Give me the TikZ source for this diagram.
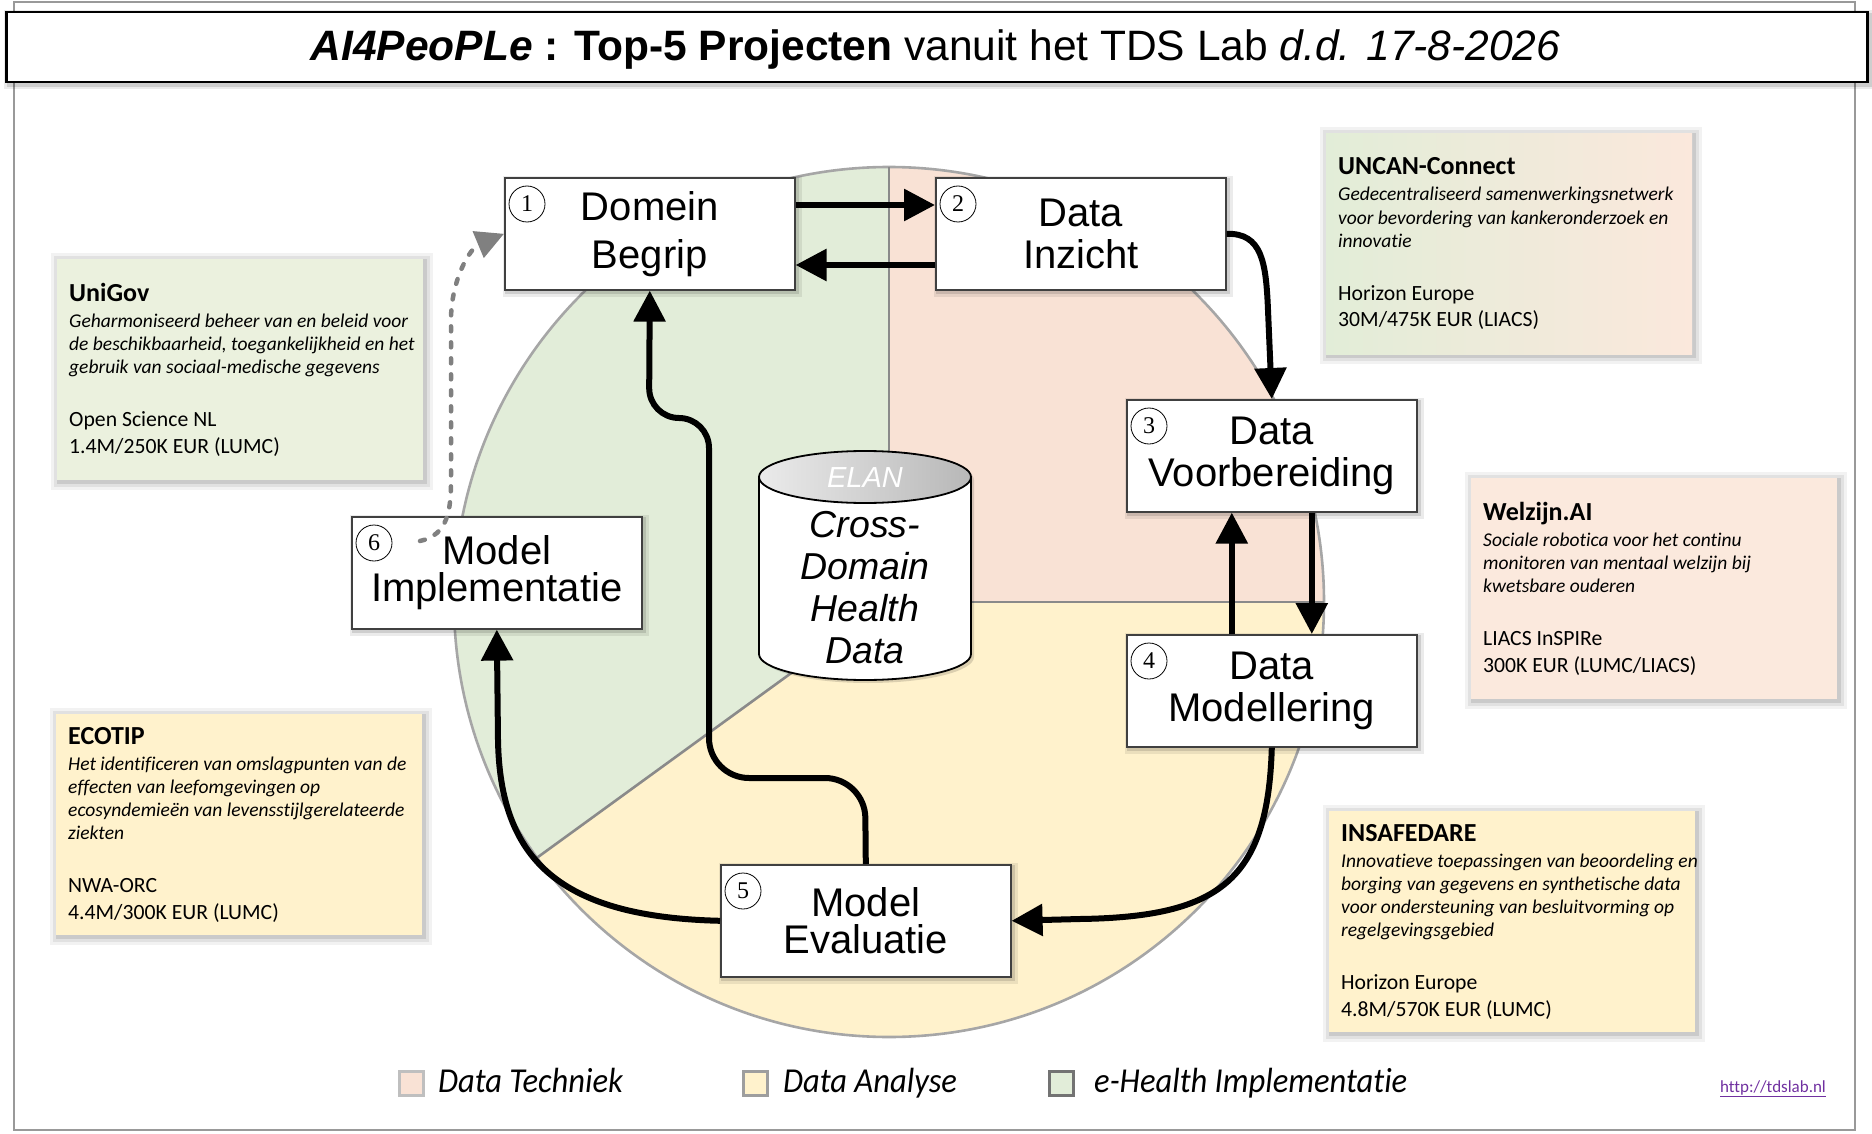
\documentclass[tikz,border=0pt]{standalone}
\usepackage{fontspec}
\setmainfont{Liberation Sans}
\newfontfamily\calfont[Ligatures={NoCommon}]{Carlito}
\newfontfamily\legfont[FakeStretch=0.93,Ligatures={NoCommon}]{Carlito}
\newfontfamily\numfont{Liberation Serif}
\usetikzlibrary{arrows.meta,calc}
\definecolor{peach}{HTML}{F9E2D5}
\definecolor{yel}{HTML}{FFF2CC}
\definecolor{grn}{HTML}{E2EDD9}
\definecolor{boxgrn}{HTML}{EBF1DE}
\definecolor{boxpeach}{HTML}{FBE9DD}
\definecolor{boxyel}{HTML}{FFF2CC}
\definecolor{uncL}{HTML}{E2EDD8}
\definecolor{uncR}{HTML}{FBE8DC}
\definecolor{linkpurple}{HTML}{7030A0}
\definecolor{pieline}{HTML}{A6A6A6}
\definecolor{divline}{HTML}{8A8A8A}
\newcommand\projtext[3]{\hspace*{12pt}\begin{minipage}{354pt}\raggedright\calfont
{\fontsize{26}{30}\selectfont\bfseries #1\par}\vspace{3pt}%
{\fontsize{19.5}{23.2}\selectfont\itshape #2\par}\vspace{26.4pt}%
{\fontsize{21.7}{26.6}\selectfont #3\par}\end{minipage}}
\begin{document}
\begin{tikzpicture}[x=1pt,y=-1pt,
  boxshadow/.style={
    preaction={draw=black,draw opacity=0.08,line width=9pt,transform canvas={xshift=2.5pt,yshift=-2.5pt}},
    preaction={draw=black,draw opacity=0.12,line width=4pt,transform canvas={xshift=2.5pt,yshift=-2.5pt}}},
  softshadow/.style={
    preaction={draw=black,draw opacity=0.05,line width=16pt,transform canvas={xshift=2pt,yshift=-2pt}},
    preaction={draw=black,draw opacity=0.07,line width=10pt,transform canvas={xshift=2pt,yshift=-2pt}},
    preaction={draw=black,draw opacity=0.10,line width=4pt,transform canvas={xshift=2pt,yshift=-2pt}}},
  procbox/.style={draw=black!75, line width=1.6pt, fill=white, minimum width=290pt,
    minimum height=112pt, inner sep=0pt, anchor=north west, align=center, boxshadow},
  callout/.style={minimum width=366pt, minimum height=221pt, inner sep=0pt,
    anchor=north west, softshadow},
  numc/.style={circle, draw=black, line width=0.8pt, minimum size=36pt, inner sep=0pt,
    font=\numfont\fontsize{24}{24}\selectfont},
  arr/.style={line width=6pt, -{Triangle[length=31pt,width=31pt]}},
  dasharr/.style={draw=black!50, line width=4.5pt, dash pattern=on 5pt off 11pt,
    line cap=round, -{Triangle[length=28pt,width=28pt,sharp]}, black!50},
  legsq/.style={minimum size=24pt, inner sep=0pt, line width=3pt},
  legtxt/.style={anchor=base west, inner sep=0pt, font=\legfont\itshape\fontsize{35}{40}\selectfont}
]
\useasboundingbox (0,0) rectangle (1872,1134);
% outer frame
\draw[black!40, line width=2pt] (14,2) rectangle (1855,1130);

% pie
\coordinate (pc) at (889,602);
\fill[peach] (pc) -- ($(pc)+(0:435)$) arc[start angle=0,end angle=-90,radius=435] -- cycle;
\fill[grn] (pc) -- ($(pc)+(-90:435)$) arc[start angle=-90,end angle=-216,radius=435] -- cycle;
\fill[yel] (pc) -- ($(pc)+(-216:435)$) arc[start angle=-216,end angle=-360,radius=435] -- cycle;
\draw[pieline, line width=2.6pt] (pc) circle[radius=435];
\draw[divline, line width=2.6pt] (pc) -- ($(pc)+(-90:435)$);
\draw[divline, line width=2.6pt] (pc) -- ($(pc)+(0:435)$);
\draw[divline, line width=2.6pt] (pc) -- ($(pc)+(-216:435)$);

% title
\node[draw=black, line width=2.5pt, fill=white, minimum width=1861pt, minimum height=70pt,
  anchor=north west, inner sep=0pt, boxshadow] (tbox) at (5,11) {};
\node[anchor=base, inner sep=0pt] (title) at (935.5,61)
  {\fontsize{42.5}{46}\selectfont{\bfseries\itshape AI4PeoPLe}{\bfseries{} : Top-5 Projecten} vanuit het TDS Lab {\itshape d.d. 17-8-2026}};

% cylinder
\fill[black, opacity=0.14, transform canvas={xshift=3pt,yshift=-3pt}]
  (759,477) -- (759,654) arc[start angle=180,end angle=0,x radius=106,y radius=26]
  -- (971,477) arc[start angle=0,end angle=-180,x radius=106,y radius=26] -- cycle;
\draw[line width=1.8pt, fill=white] (759,477) -- (759,654)
  arc[start angle=180,end angle=0,x radius=106,y radius=26] -- (971,477);
\draw[line width=1.8pt, left color=black!8, right color=black!28] (865,477) ellipse[x radius=106,y radius=26];
\node[text=white, font=\itshape\fontsize{29}{30}\selectfont, inner sep=0pt] (elan) at (865,478) {ELAN};
\node[align=center, font=\itshape\fontsize{37.5}{42}\selectfont, inner sep=0pt] (chd) at (865,588)
  {Cross-\\Domain\\Health\\Data};

% callouts
\node[callout, left color=uncL, right color=uncR] (uncan) at (1326,133)
  {\projtext{UNCAN-Connect}{Gedecentraliseerd samenwerkingsnetwerk\\voor bevordering van kankeronderzoek en\\innovatie}{Horizon Europe\\30M/475K EUR (LIACS)}};
\node[callout, fill=boxgrn] (unigov) at (57,259)
  {\projtext{UniGov}{Geharmoniseerd beheer van en beleid voor\\de beschikbaarheid, toegankelijkheid en het\\gebruik van sociaal-medische gegevens}{Open Science NL\\1.4M/250K EUR (LUMC)}};
\node[callout, fill=boxpeach] (welzijn) at (1471,478)
  {\projtext{Welzijn.AI}{Sociale robotica voor het continu\\monitoren van mentaal welzijn bij\\kwetsbare ouderen}{LIACS InSPIRe\\300K EUR (LUMC/LIACS)}};
\node[callout, fill=boxyel] (ecotip) at (56,714)
  {\projtext{ECOTIP}{Het identificeren van omslagpunten van de\\effecten van leefomgevingen op\\ecosyndemieën van levensstijlgerelateerde\\ziekten}{NWA-ORC\\4.4M/300K EUR (LUMC)}};
\node[callout, fill=boxyel] (insafe) at (1329,811)
  {\projtext{INSAFEDARE}{\mbox{Innovatieve toepassingen van beoordeling en}\\\mbox{borging van gegevens en synthetische data}\\voor ondersteuning van besluitvorming op\\regelgevingsgebied}{Horizon Europe\\4.8M/570K EUR (LUMC)}};

% process boxes
\node[procbox, font=\fontsize{40}{48}\selectfont] (b1) at (504,177) {Domein\\Begrip};
\node[procbox, font=\fontsize{40}{42}\selectfont] (b2) at (935,177) {Data\\Inzicht};
\node[procbox, font=\fontsize{40}{42}\selectfont] (b3) at (1126,399) {Data\\Voorbereiding};
\node[procbox, font=\fontsize{40}{42}\selectfont] (b4) at (1126,634) {Data\\Modellering};
\node[procbox, font=\fontsize{40}{37}\selectfont] (b5) at (720,864) {Model\\Evaluatie};
\node[procbox, font=\fontsize{40}{37}\selectfont] (b6) at (351,516) {Model\\Implementatie};
\foreach \i in {1,...,6}{
  \node[numc] (c\i) at ($(b\i.north west)+(23,27)$) {\i};
}

% arrows
\draw[arr] ($(b1.north east)+(0,28)$) -- ($(b2.north west)+(0,28)$);
\draw[arr] ($(b2.north west)+(0,88)$) -- ($(b1.north east)+(0,88)$);
\draw[arr] (b2.east) .. controls (1262,233) and (1266,262) .. (1268,310) -- (b3.north);
\draw[arr] ($(b3.south)+(40,0)$) -- ($(b4.north)+(40,0)$);
\draw[arr] ($(b4.north)+(-40,0)$) -- ($(b3.south)+(-40,0)$);
\draw[arr] (b4.south) .. controls (1268,880) and (1220,917) .. (1080,919) -- (b5.east);
\draw[arr, rounded corners=40pt] (b5.north) -- (865,778) -- (709,778) [rounded corners=30pt] -- (709,418) -- (649,418) -- (b1.south);
\draw[arr] (b5.west) .. controls (560,917) and (500,860) .. (498,740) -- (b6.south);
\coordinate (ds) at (420,541);
\draw[dasharr] (ds) .. controls (448,535) and (451,510) .. (451,480) -- (451,320)
  .. controls (451,280) and (470,248) .. (b1.west);

% legend
\node[legsq, fill=peach, draw=black!25] (l1) at (411,1083) {};
\node[legtxt] (t1) at (438,1092) {Data Techniek};
\node[legsq, fill=yel, draw=black!38] (l2) at (755.5,1083) {};
\node[legtxt] (t2) at (783,1092) {Data Analyse};
\node[legsq, fill=grn, draw=black!55] (l3) at (1061.5,1083) {};
\node[legtxt] (t3) at (1094,1092) {e-Health Implementatie};
\node[anchor=base west, inner sep=0pt, text=linkpurple] (url) at (1720,1092)
  {\calfont\fontsize{17}{20}\selectfont\underline{http://tdslab.nl}};
\end{tikzpicture}
\end{document}
